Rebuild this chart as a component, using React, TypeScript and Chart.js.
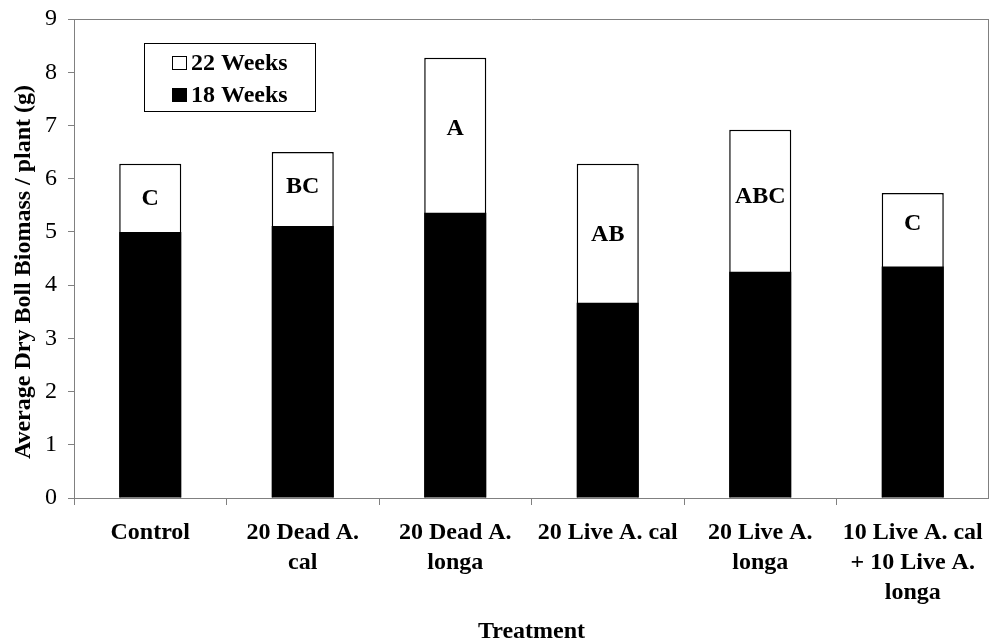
import React, { useEffect, useRef } from 'react';
import { Chart, registerables } from 'chart.js';

Chart.register(...registerables);

const categories: (string | string[])[] = [
  'Control',
  ['20 Dead A.', 'cal'],
  ['20 Dead A.', 'longa'],
  '20 Live A. cal',
  ['20 Live A.', 'longa'],
  ['10 Live A. cal', '+ 10 Live A.', 'longa'],
];
const weeks22 = [6.28, 6.5, 8.27, 6.28, 6.92, 5.73];
const weeks18 = [5.0, 5.11, 5.36, 3.67, 4.25, 4.35];
const letters = ['C', 'BC', 'A', 'AB', 'ABC', 'C'];
const letterLevels = [5.62, 5.85, 6.94, 4.95, 5.65, 5.16];
const seriesNames = ['22 Weeks', '18 Weeks'];
const yTitle = 'Average Dry Boll Biomass / plant (g)';
const xTitle = 'Treatment';

const SERIF = '"Liberation Serif", "Times New Roman", serif';
const AXIS_GRAY = '#808080';

const overlay = {
  id: 'overlay',
  afterDatasetsDraw(chart: any) {
    const { ctx, chartArea, scales } = chart;
    const x = scales.x;
    const y = scales.y;
    ctx.save();
    // plot border (top / right)
    ctx.strokeStyle = AXIS_GRAY;
    ctx.lineWidth = 1;
    ctx.beginPath();
    ctx.moveTo(chartArea.left, Math.round(chartArea.top) + 0.5);
    ctx.lineTo(chartArea.right, Math.round(chartArea.top) + 0.5);
    ctx.moveTo(Math.round(chartArea.right) - 0.5, chartArea.top);
    ctx.lineTo(Math.round(chartArea.right) - 0.5, chartArea.bottom);
    ctx.stroke();

    // significance letters
    ctx.fillStyle = '#000';
    ctx.font = `bold 24px ${SERIF}`;
    ctx.textAlign = 'center';
    ctx.textBaseline = 'middle';
    letters.forEach((t, i) => {
      ctx.fillText(t, x.getPixelForValue(i), y.getPixelForValue(letterLevels[i]));
    });

    // legend box
    const lx = 144, ly = 43, lw = 171, lh = 68;
    ctx.fillStyle = '#fff';
    ctx.fillRect(lx, ly, lw, lh);
    ctx.strokeStyle = '#000';
    ctx.lineWidth = 1;
    ctx.strokeRect(lx + 0.5, ly + 0.5, lw, lh);
    const rows = [63, 95];
    ctx.textAlign = 'left';
    ctx.font = `bold 24px ${SERIF}`;
    rows.forEach((ry, i) => {
      if (i === 0) {
        ctx.fillStyle = '#fff';
        ctx.fillRect(172, ry - 7, 14, 13);
        ctx.strokeStyle = '#000';
        ctx.strokeRect(172.5, ry - 6.5, 14, 13);
      } else {
        ctx.fillStyle = '#000';
        ctx.fillRect(172, ry - 7, 15, 14);
      }
      ctx.fillStyle = '#000';
      ctx.fillText(seriesNames[i], 191, ry + 1);
    });
    ctx.restore();
  },
  afterDraw(chart: any) {
    const { ctx, chartArea } = chart;
    ctx.save();
    ctx.fillStyle = '#000';
    ctx.font = `bold 24px ${SERIF}`;
    ctx.textAlign = 'center';
    ctx.textBaseline = 'middle';
    ctx.fillText(xTitle, (chartArea.left + chartArea.right) / 2, 632);
    ctx.translate(24, 272);
    ctx.rotate(-Math.PI / 2);
    ctx.fillText(yTitle, 0, 0);
    ctx.restore();
  },
};

export default function App() {
  const canvasRef = useRef<HTMLCanvasElement | null>(null);

  useEffect(() => {
    document.body.style.margin = '0';
    const canvas = canvasRef.current;
    if (!canvas) return;
    const chart = new Chart(canvas, {
      type: 'bar',
      data: {
        labels: categories as any,
        datasets: [
          {
            label: seriesNames[0],
            data: weeks22,
            backgroundColor: '#ffffff',
            borderColor: '#000000',
            borderWidth: 1.5,
            order: 2,
            barPercentage: 0.407,
            categoryPercentage: 1,
          },
          {
            label: seriesNames[1],
            data: weeks18,
            backgroundColor: '#000000',
            borderColor: '#000000',
            borderWidth: 0,
            order: 1,
            barPercentage: 0.407,
            categoryPercentage: 1,
          },
        ],
      },
      options: {
        responsive: false,
        animation: false,
        devicePixelRatio: 1,
        layout: { padding: { top: 19, right: 0, left: 0, bottom: 0 } },
        plugins: {
          legend: { display: false },
          tooltip: { enabled: false },
        },
        scales: {
          x: {
            stacked: true,
            grid: {
              offset: true,
              drawOnChartArea: false,
              drawTicks: true,
              tickLength: 7,
              color: AXIS_GRAY,
            },
            border: { display: true, color: AXIS_GRAY, width: 1 },
            ticks: {
              color: '#000',
              font: { family: SERIF, size: 24, weight: 'bold', lineHeight: 1.25 },
              padding: 13,
              maxRotation: 0,
              minRotation: 0,
              autoSkip: false,
            },
            afterFit: (s: any) => {
              s.height = 146;
              s.paddingLeft = 0;
              s.paddingRight = 0;
            },
          },
          y: {
            stacked: false,
            min: 0,
            max: 9,
            ticks: {
              stepSize: 1,
              color: '#000',
              font: { family: SERIF, size: 24 },
              padding: 11,
            },
            grid: {
              drawOnChartArea: false,
              drawTicks: true,
              tickLength: 6,
              color: AXIS_GRAY,
            },
            border: { display: true, color: AXIS_GRAY, width: 1 },
            afterFit: (s: any) => {
              s.width = 74;
              s.paddingTop = 0;
              s.paddingBottom = 0;
            },
          },
        },
      },
      plugins: [overlay],
    } as any);
    return () => chart.destroy();
  }, []);

  return (
    <div style={{ width: 989, height: 644 }}>
      <canvas ref={canvasRef} width={989} height={644} style={{ display: 'block' }} />
    </div>
  );
}
